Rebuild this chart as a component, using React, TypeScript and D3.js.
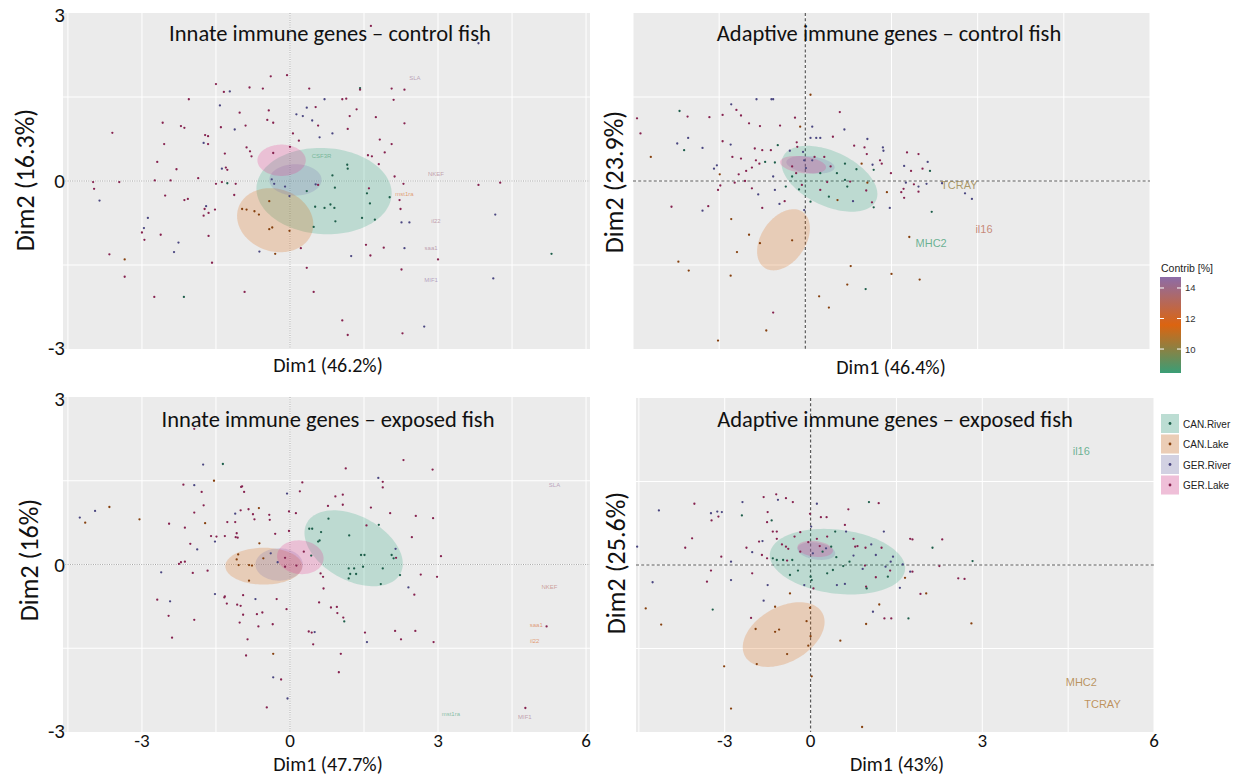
import React from 'react';
import * as d3 from 'd3';

type Pt = [number, number, number];
type Ell = { g: number; cx: number; cy: number; ux: number; uy: number; vx: number; vy: number };
type Gene = { name: string; x: number; y: number; contrib: number };

const groups = ['CAN.River', 'CAN.Lake', 'GER.River', 'GER.Lake'];
const groupColors = ['#1b9e77', '#d95f02', '#7570b3', '#e7298a'];
const pointColors = ['#1d5e4a', '#86400e', '#4a4680', '#86224f'];

const contribTicks = [10, 12, 14];
const contribDomain = [8.43, 11.58, 14.72];
const contribColors = ['#3a9e76', '#dc6410', '#8c6ca8'];

// ---------- Innate immune genes – control fish ----------
const innateControlPoints: Pt[] = [
  [1.64,2.77,3],[3.82,2.46,2],[-0.39,1.87,3],[-0.06,1.89,3],[-1.50,1.73,3],[2.32,1.63,3],[1.42,1.66,0],[2.06,1.65,3],[-1.34,1.59,3],[-1.22,1.60,2],
  [-0.82,1.67,3],[-0.55,1.65,3],[0.39,1.65,3],[-2.05,1.46,3],[0.70,1.46,2],[1.06,1.46,3],[1.14,1.47,3],[2.10,1.45,3],[1.42,1.63,3],[-1.42,1.35,2],
  [0.52,1.32,3],[-0.43,1.26,3],[0.34,1.31,2],[1.35,1.28,3],[-1.02,1.22,3],[0.13,1.19,2],[0.26,1.16,2],[1.21,1.16,3],[1.74,1.14,3],[-0.46,1.09,3],
  [-0.34,1.04,3],[0.45,1.08,2],[2.32,1.03,3],[-2.58,1.04,3],[-0.90,0.99,3],[-1.40,0.96,3],[-2.21,0.98,3],[-2.14,0.95,3],[-1.12,0.92,2],[0.06,0.85,3],
  [0.57,0.99,3],[1.17,0.93,3],[0.86,0.85,2],[-1.72,0.82,3],[-1.66,0.80,3],[-3.60,0.86,3],[-2.55,0.66,3],[0.60,0.78,2],[1.82,0.74,3],[-1.75,0.68,2],
  [-1.66,0.66,3],[0.18,0.72,3],[2.06,0.66,3],[-0.88,0.60,3],[-0.81,0.53,3],[-1.32,0.49,3],[-0.78,0.44,3],[-0.34,0.50,3],[0.00,0.61,3],[1.58,0.46,3],
  [1.66,0.44,3],[1.92,0.51,3],[-2.69,0.34,3],[-1.30,0.24,3],[-1.27,0.20,3],[-2.30,0.21,3],[-1.38,0.22,2],[1.80,0.30,3],[1.16,0.29,0],[1.17,0.22,0],
  [-1.38,-0.02,3],[-1.27,-0.04,0],[-1.50,-0.05,3],[-1.10,-0.05,3],[-1.86,0.05,3],[-0.37,0.03,2],[-0.32,-0.05,2],[0.86,0.10,0],[0.52,-0.06,2],[0.57,-0.07,3],
  [-0.10,-0.10,2],[2.12,0.08,3],[2.30,-0.05,3],[3.82,-0.07,3],[4.26,-0.03,3],[-3.99,-0.02,3],[-3.97,-0.14,3],[-3.86,-0.35,2],[-3.46,-0.02,3],[-2.74,0.01,3],
  [-2.42,0.01,3],[-2.53,-0.26,3],[-2.14,-0.34,3],[-2.07,-0.32,3],[-1.13,-0.25,3],[-1.70,-0.45,2],[-1.73,-0.50,3],[-1.52,-0.51,3],[-1.65,-0.57,3],[-1.75,-0.62,3],
  [-0.42,-0.36,1],[-0.97,-0.50,1],[-0.88,-0.51,1],[-0.72,-0.54,1],[-0.63,-0.60,1],[-0.01,-0.27,2],[0.34,-0.18,0],[0.91,-0.12,0],[1.56,-0.22,0],[1.60,-0.13,3],
  [1.62,-0.40,0],[2.02,-0.29,0],[2.22,-0.34,3],[2.24,-0.50,3],[0.51,-0.46,0],[0.70,-0.48,0],[0.82,-0.42,0],[0.90,-0.48,0],[0.92,-0.72,0],[1.46,-0.66,0],
  [1.72,-0.69,0],[2.26,-0.74,2],[2.42,-0.74,2],[4.16,-0.60,2],[-2.88,-0.66,2],[-3.00,-0.92,3],[-2.96,-0.84,2],[-2.95,-1.05,3],[-2.62,-0.96,3],[-2.26,-1.10,2],
  [-2.35,-1.27,2],[-1.65,-0.98,3],[-0.36,-0.83,1],[-0.42,-0.86,1],[-0.01,-0.89,1],[0.48,-0.82,0],[-0.62,-1.26,2],[-0.30,-1.30,1],[0.22,-1.20,3],[1.54,-1.14,3],
  [1.90,-1.19,3],[1.63,-1.33,3],[2.32,-1.20,2],[3.00,-1.40,3],[1.24,-1.34,2],[-3.66,-1.31,3],[-3.35,-1.40,1],[5.30,-1.30,0],[-1.58,-1.46,3],[-3.35,-1.71,3],
  [0.34,-1.55,3],[2.26,-1.58,3],[4.12,-1.74,2],[-2.75,-2.07,3],[-2.15,-2.07,0],[-0.92,-1.98,3],[0.48,-1.98,3],[1.06,-2.49,3],[1.17,-2.75,3],[2.28,-2.72,3],
  [2.72,-2.60,2],[-0.86,-3.04,3]
];
const innateControlEllipses: Ell[] = [
  { g: 0, cx: 0.69, cy: -0.18, ux: 1.37, uy: -0.04, vx: 0.0, vy: 0.77 },
  { g: 1, cx: -0.30, cy: -0.70, ux: 0.77, uy: -0.12, vx: 0.06, vy: 0.56 },
  { g: 2, cx: 0.11, cy: 0.02, ux: 0.53, uy: 0, vx: 0, vy: 0.28 },
  { g: 3, cx: -0.17, cy: 0.37, ux: 0.49, uy: 0, vx: 0, vy: 0.28 }
];
const innateControlGenes: Gene[] = [
  { name: 'SLA', x: 2.53, y: 1.84, contrib: 14.3 },
  { name: 'CSF3R', x: 0.64, y: 0.44, contrib: 8.6 },
  { name: 'NKEF', x: 2.96, y: 0.13, contrib: 13.8 },
  { name: 'mst1ra', x: 2.32, y: -0.24, contrib: 11.5 },
  { name: 'il22', x: 2.96, y: -0.71, contrib: 13.9 },
  { name: 'saa1', x: 2.86, y: -1.20, contrib: 14.0 },
  { name: 'MIF1', x: 2.86, y: -1.77, contrib: 14.6 }
];

// ---------- Adaptive immune genes – control fish ----------
const adaptiveControlPoints: Pt[] = [
  [0.09,1.54,1],[-0.85,1.46,2],[-0.59,1.46,2],[-0.56,1.46,2],[-1.29,1.37,2],[-2.19,1.25,0],[-1.20,1.27,3],[0.60,1.23,3],[-1.12,1.17,3],[-2.05,1.15,3],
  [-1.67,1.14,3],[-1.44,1.18,3],[-2.93,1.12,3],[-0.18,1.13,3],[-0.09,0.97,1],[0.12,0.97,2],[-0.98,1.03,3],[-0.79,0.98,3],[-0.44,0.99,3],[0.68,0.92,2],
  [-2.87,0.85,3],[-2.04,0.77,2],[0.09,0.77,2],[0.19,0.77,2],[0.26,0.77,2],[0.48,0.79,3],[1.08,0.75,2],[-2.23,0.67,2],[-1.44,0.71,3],[-1.30,0.65,2],
  [-1.79,0.59,2],[-2.11,0.55,0],[-0.88,0.58,3],[-0.48,0.64,0],[-0.75,0.55,3],[-0.60,0.55,3],[-0.14,0.61,3],[-0.15,0.69,3],[0.85,0.63,3],[1.03,0.60,3],
  [1.35,0.60,2],[1.36,0.54,2],[1.07,0.48,3],[1.77,0.51,3],[1.97,0.48,3],[-2.69,0.43,1],[-1.27,0.43,3],[-1.12,0.40,3],[-0.86,0.37,3],[-1.54,0.28,2],
  [-1.59,0.22,2],[-1.03,0.18,3],[-1.49,0.12,1],[-1.16,0.12,3],[-0.93,0.24,3],[-0.80,0.31,3],[-0.70,0.34,0],[-0.53,0.33,0],[-0.27,0.54,2],[-0.04,0.52,2],
  [0.12,0.37,2],[0.33,0.43,3],[0.69,0.31,0],[0.98,0.31,1],[1.17,0.29,2],[1.30,0.37,3],[1.33,0.31,3],[1.72,0.27,2],[1.84,0.18,3],[2.13,0.34,2],
  [2.04,0.22,3],[2.17,0.18,0],[1.49,0.14,3],[0.89,0.21,0],[1.19,0.20,0],[0.69,0.02,0],[0.78,-0.01,3],[0.38,-0.02,3],[-0.06,-0.07,3],[-0.23,0.08,0],
  [-0.56,0.08,2],[-0.34,-0.10,0],[-1.05,0.00,3],[-1.23,-0.03,3],[-1.48,-0.08,3],[-1.52,-0.16,3],[-0.93,-0.13,3],[-0.82,-0.24,2],[-0.53,-0.16,2],[-0.11,-0.15,0],
  [0.26,-0.16,3],[0.73,-0.10,0],[1.08,-0.03,1],[1.06,-0.17,3],[1.42,-0.20,1],[1.71,-0.14,3],[1.75,-0.03,2],[1.67,-0.20,3],[1.89,-0.06,3],[1.97,-0.10,2],
  [1.97,-0.19,3],[2.11,-0.05,2],[2.38,-0.04,2],[2.78,-0.22,2],[2.90,-0.32,2],[-0.45,-0.41,2],[-0.36,-0.36,3],[-0.75,-0.48,3],[0.56,-0.34,1],[0.83,-0.36,2],
  [1.16,-0.38,3],[1.19,-0.47,0],[1.47,-0.48,2],[1.72,-0.30,3],[2.20,-0.55,0],[-2.33,-0.46,3],[-1.69,-0.45,3],[-1.79,-0.53,2],[-0.02,-0.52,2],[-1.29,-0.68,1],
  [-0.98,-0.96,1],[-0.23,-1.06,1],[-0.79,-1.11,1],[-1.19,-1.27,1],[1.81,-1.00,1],[-2.21,-1.44,1],[-2.03,-1.60,1],[-1.30,-1.69,1],[0.79,-1.52,1],[1.50,-1.66,1],
  [1.99,-1.76,1],[0.73,-1.85,1],[1.05,-1.93,0],[0.24,-2.06,1],[0.41,-2.26,1],[-0.56,-2.35,3],[-0.68,-2.67,1],[-1.52,-2.85,1],[0.09,-0.37,0],[0.41,-0.28,0],
  [0.55,0.14,0],[-0.16,0.14,3],[0.26,0.14,0],[0.01,0.23,2],[0.44,0.26,3],[-0.23,0.26,3],[-0.02,0.37,2],[0.16,0.43,3]
];
const adaptiveControlEllipses: Ell[] = [
  { g: 0, cx: 0.42, cy: 0.04, ux: 0.81, uy: -0.39, vx: 0.20, vy: 0.44 },
  { g: 1, cx: -0.38, cy: -1.05, ux: 0.33, uy: 0.50, vx: 0.32, vy: -0.22 },
  { g: 2, cx: 0.09, cy: 0.29, ux: 0.42, uy: -0.05, vx: 0.01, vy: 0.15 },
  { g: 3, cx: -0.04, cy: 0.29, ux: 0.40, uy: -0.05, vx: 0.01, vy: 0.15 }
];
const adaptiveControlGenes: Gene[] = [
  { name: 'TCRAY', x: 2.68, y: -0.08, contrib: 10.2 },
  { name: 'il16', x: 3.11, y: -0.86, contrib: 12.9 },
  { name: 'MHC2', x: 2.19, y: -1.10, contrib: 8.5 }
];

// ---------- Innate immune genes – exposed fish ----------
const innateExposedPoints: Pt[] = [
  [-1.94,2.43,3],[2.30,1.87,3],[2.89,1.70,3],[-1.76,1.79,2],[-1.36,1.80,0],[1.13,1.72,3],[1.79,1.55,2],[1.88,1.48,3],[1.88,1.38,3],[-1.54,1.50,1],
  [0.25,1.47,3],[-2.16,1.43,3],[-1.94,1.42,2],[-0.99,1.39,3],[-0.97,1.40,3],[-0.93,1.30,3],[-1.79,1.30,3],[0.20,1.31,3],[-0.06,1.27,2],[0.92,1.22,3],
  [1.07,1.25,3],[-1.75,1.06,3],[-3.66,1.03,1],[-3.95,0.96,2],[-1.00,0.97,3],[-0.84,0.99,3],[-0.63,1.01,1],[0.77,1.05,3],[1.07,1.07,3],[1.64,1.02,3],
  [-1.94,0.93,3],[-1.11,0.91,2],[-0.75,0.90,3],[-0.42,0.89,3],[-0.02,0.95,3],[0.12,0.92,3],[-4.26,0.84,2],[-4.15,0.75,1],[-3.05,0.81,1],[-1.72,0.74,1],
  [-1.27,0.76,3],[-1.11,0.76,3],[-0.72,0.81,3],[-0.41,0.80,3],[2.03,0.92,3],[2.55,0.87,3],[2.90,0.83,3],[-2.45,0.73,3],[-2.13,0.66,3],[0.78,0.82,0],
  [1.80,0.71,0],[1.55,0.70,3],[0.39,0.64,0],[0.45,0.64,0],[0.63,0.58,0],[-1.08,0.56,3],[-1.10,0.49,3],[-1.06,0.48,3],[-1.60,0.51,3],[-1.49,0.50,3],
  [-1.32,0.51,3],[-0.30,0.55,3],[-0.02,0.60,3],[-2.02,0.37,3],[-1.52,0.41,2],[-1.88,0.27,2],[2.47,0.49,3],[0.57,0.41,0],[0.60,0.43,0],[1.20,0.52,0],
  [2.14,0.28,2],[2.06,0.17,0],[2.10,0.11,0],[2.15,0.12,3],[3.06,0.15,3],[1.44,0.17,0],[1.51,0.17,0],[0.28,0.23,3],[0.43,0.16,0],[-2.21,0.04,3],
  [-2.13,0.05,3],[-2.25,0.01,3],[-2.61,-0.14,2],[-1.97,-0.15,3],[-1.67,-0.11,3],[-1.05,0.18,1],[-1.08,0.09,1],[-1.04,-0.01,1],[-0.83,-0.01,1],[-0.77,-0.02,1],
  [-0.62,0.38,1],[-0.54,0.11,1],[-0.39,0.20,2],[-0.10,0.12,3],[-0.10,-0.04,3],[0.13,-0.02,3],[-0.25,0.04,2],[0.62,-0.16,3],[0.67,-0.22,3],[1.19,-0.07,0],
  [1.22,-0.17,0],[1.30,-0.07,0],[1.34,-0.17,0],[1.19,-0.25,0],[1.48,-0.04,0],[1.88,-0.07,0],[2.23,-0.19,0],[2.65,-0.18,3],[2.98,-0.22,3],[-0.83,-0.29,1],
  [0.68,-0.43,3],[1.84,-0.35,0],[2.40,-0.41,2],[2.52,-0.54,3],[-1.52,-0.53,2],[-1.32,-0.57,3],[-1.33,-0.59,3],[-1.28,-0.70,3],[-0.95,-0.55,3],[-0.70,-0.62,2],
  [-0.27,-0.62,3],[-2.69,-0.63,3],[-2.43,-0.66,2],[-1.07,-0.72,3],[-1.00,-0.74,3],[-0.95,-0.90,3],[-0.67,-0.89,3],[-0.56,-0.86,3],[-1.02,-1.04,3],[-0.64,-1.11,3],
  [-0.35,-1.07,3],[-0.07,-0.80,3],[-2.46,-0.92,3],[-1.94,-0.99,3],[-2.39,-1.31,3],[-0.86,-1.34,3],[0.59,-0.68,3],[0.83,-0.77,3],[0.95,-0.76,3],[0.96,-0.87,3],
  [1.08,-0.95,3],[1.10,-1.02,0],[0.38,-1.20,3],[0.44,-1.22,3],[0.50,-1.21,2],[0.47,-1.43,3],[1.52,-1.22,3],[1.56,-1.39,2],[2.13,-1.19,3],[2.25,-1.34,3],
  [2.54,-1.19,3],[2.91,-1.39,3],[5.20,-1.11,3],[-0.89,-1.63,3],[-0.34,-1.60,1],[1.03,-1.60,3],[-0.34,-2.02,2],[-0.18,-2.06,3],[0.99,-1.93,3],[-0.05,-2.40,2],
  [-0.47,-2.56,3],[4.77,-2.57,3]
];
const innateExposedEllipses: Ell[] = [
  { g: 0, cx: 1.29, cy: 0.29, ux: 0.95, uy: -0.45, vx: 0.30, vy: 0.51 },
  { g: 1, cx: -0.53, cy: -0.03, ux: 0.78, uy: 0, vx: 0, vy: 0.33 },
  { g: 2, cx: -0.22, cy: 0.0, ux: 0.48, uy: 0, vx: 0, vy: 0.29 },
  { g: 3, cx: 0.21, cy: 0.13, ux: 0.47, uy: -0.04, vx: 0.03, vy: 0.30 }
];
const innateExposedGenes: Gene[] = [
  { name: 'SLA', x: 5.36, y: 1.43, contrib: 14.4 },
  { name: 'NKEF', x: 5.26, y: -0.40, contrib: 13.2 },
  { name: 'saa1', x: 4.99, y: -1.08, contrib: 11.8 },
  { name: 'il22', x: 4.96, y: -1.37, contrib: 11.5 },
  { name: 'mst1ra', x: 3.26, y: -2.68, contrib: 8.5 },
  { name: 'MIF1', x: 4.76, y: -2.74, contrib: 13.9 }
];

// ---------- Adaptive immune genes – exposed fish ----------
const adaptiveExposedPoints: Pt[] = [
  [-0.60,1.27,3],[-0.82,1.22,3],[-0.57,1.17,2],[-0.43,1.20,3],[-0.31,1.13,3],[-1.19,1.13,2],[0.11,1.10,2],[1.02,1.13,0],[1.19,1.11,3],[-2.03,1.10,3],
  [-2.65,0.98,2],[-1.74,0.93,2],[-1.63,0.96,2],[-1.55,0.95,2],[-1.61,0.87,3],[-1.20,0.89,0],[-0.75,0.95,3],[-0.01,0.92,3],[0.18,0.86,3],[0.66,1.00,3],
  [-1.73,0.80,3],[-0.76,0.77,3],[-0.68,0.80,0],[-0.66,0.60,3],[-0.59,0.60,3],[0.28,0.86,3],[0.60,0.72,3],[0.01,0.69,2],[1.28,0.60,2],[-2.07,0.48,3],
  [-2.19,0.31,3],[-1.12,0.31,3],[-1.02,0.23,2],[-0.90,0.42,3],[-0.84,0.43,2],[-0.59,0.47,3],[-0.50,0.37,3],[-0.43,0.33,3],[-0.76,0.12,3],[-0.85,0.18,3],
  [-0.66,0.12,0],[-0.48,0.09,0],[-0.32,0.09,0],[-1.56,0.15,3],[-1.39,0.06,2],[-1.74,-0.10,3],[-1.02,-0.15,3],[-1.39,-0.27,2],[-1.81,-0.30,3],[-2.76,-0.31,2],
  [-3.03,0.33,2],[-0.75,-0.36,2],[-1.71,-0.80,0],[-2.88,-0.78,1],[-2.61,-1.07,1],[-0.36,-0.51,1],[-0.82,-0.64,2],[-0.62,-0.75,1],[-0.01,-0.77,1],[-1.04,-0.95,3],
  [-0.96,-1.15,1],[-0.62,-1.20,1],[-0.55,-1.16,1],[-0.07,-1.01,1],[0.00,-1.28,1],[-0.04,-1.45,1],[0.52,-1.36,1],[-0.41,-1.60,1],[-0.94,-1.78,1],[-1.51,-1.82,1],
  [0.02,-2.00,1],[-1.39,-2.58,1],[0.90,-2.91,1],[0.97,-1.06,1],[1.20,-0.71,1],[1.09,-0.84,2],[1.29,-0.96,3],[1.41,-0.96,3],[1.71,-0.96,0],[2.81,-1.05,1],
  [1.92,-0.52,3],[2.02,-0.51,1],[1.56,-0.41,2],[1.74,-0.12,2],[1.78,-0.12,3],[1.65,-0.23,1],[2.58,-0.24,3],[2.69,-0.25,3],[2.25,-0.02,3],[2.83,0.07,0],
  [2.13,0.31,0],[1.78,0.46,3],[2.30,0.46,3],[1.44,0.15,2],[1.40,0.06,2],[1.61,0.01,2],[1.31,-0.03,2],[1.39,-0.10,3],[1.35,-0.21,0],[1.14,-0.22,3],
  [0.91,-0.07,2],[0.68,0.06,0],[0.45,0.14,0],[0.57,-0.02,0],[0.39,-0.09,0],[0.46,-0.36,2],[0.60,-0.34,2],[0.97,-0.39,3],[0.98,-0.42,0],[0.29,-0.15,0],
  [0.00,-0.21,0],[0.02,-0.27,0],[-0.36,-0.18,0],[-0.11,-0.36,2],[0.05,-0.42,3],[-0.22,-0.10,0],[-0.59,0.09,0],[0.75,0.47,3],[0.78,0.33,3],[0.96,0.31,3],
  [1.06,0.37,2],[1.24,0.31,3],[1.14,0.18,2],[0.75,0.17,2],[0.21,0.24,0],[0.04,0.21,2],[-0.18,0.24,3],[0.11,0.47,3],[0.29,0.51,3],[0.43,0.60,0],
  [0.62,0.60,2],[-0.04,0.41,3],[0.16,0.34,3],[0.27,0.30,2],[-0.18,0.59,3],[-0.28,0.51,3],[-0.39,0.29,3],[0.95,-0.01,3],[1.74,0.47,3],[-0.41,0.08,3],
  [0.36,0.33,0],[0.82,0.34,3]
];
const adaptiveExposedEllipses: Ell[] = [
  { g: 0, cx: 0.47, cy: 0.06, ux: 1.18, uy: -0.15, vx: 0.07, vy: 0.57 },
  { g: 1, cx: -0.47, cy: -1.25, ux: 0.68, uy: 0.38, vx: 0.22, vy: -0.44 },
  { g: 2, cx: 0.10, cy: 0.25, ux: 0.33, uy: -0.05, vx: 0.02, vy: 0.15 },
  { g: 3, cx: 0.08, cy: 0.29, ux: 0.31, uy: -0.04, vx: 0.02, vy: 0.14 }
];
const adaptiveExposedGenes: Gene[] = [
  { name: 'il16', x: 4.73, y: 2.05, contrib: 8.5 },
  { name: 'MHC2', x: 4.73, y: -2.11, contrib: 10.6 },
  { name: 'TCRAY', x: 5.10, y: -2.50, contrib: 10.7 }
];

const leftYTickValues = [3, 0, -3];
const leftYTickLabels = ['3', '0', '-3'];
const innateXTickValues = [-3, 0, 3, 6];
const innateXTickLabels = ['-3', '0', '3', '6'];
const adaptiveXTickValues = [-1.5, 0, 3, 6];
const adaptiveXTickLabels = ['-3', '0', '3', '6'];

const TITLE_FONT = 'Carlito, Calibri, Lato, "Open Sans", sans-serif';
const SANS = '"Liberation Sans", Arial, sans-serif';

const contribColor = d3.scaleLinear<string>().domain(contribDomain).range(contribColors).clamp(true);

type PanelProps = {
  id: string;
  left: number; right: number; top: number; bottom: number;
  xDomain: [number, number];
  points: Pt[]; ellipses: Ell[]; genes: Gene[];
  title: string; titleX: number; titleY: number;
  xLabel: string; xLabelX: number; xLabelY: number;
  yLabel: string; yLabelX: number; yLabelY: number;
  dashed: boolean;
  geneFont: number; geneOpacity: number;
  yTicks?: boolean; xTickValues?: number[]; xTickLabels?: string[];
};

function Panel(p: PanelProps) {
  const xs = d3.scaleLinear().domain(p.xDomain).range([p.left, p.right]);
  const ys = d3.scaleLinear().domain([-3, 3]).range([p.bottom, p.top]);
  const gridX: number[] = [];
  for (let v = Math.ceil(p.xDomain[0] / 1.5) * 1.5; v <= p.xDomain[1]; v += 1.5) gridX.push(v);
  const gridY = [-1.5, 0, 1.5];
  const line = d3.line<[number, number]>().curve(d3.curveLinearClosed);
  const ellPath = (e: Ell) => {
    const pts: [number, number][] = d3.range(0, 120).map((i) => {
      const t = (i / 120) * Math.PI * 2;
      return [
        xs(e.cx + e.ux * Math.cos(t) + e.vx * Math.sin(t)),
        ys(e.cy + e.uy * Math.cos(t) + e.vy * Math.sin(t))
      ];
    });
    return line(pts) || '';
  };
  const zeroStroke = p.dashed ? '#5a5a5a' : '#9a9a9a';
  const zeroDash = p.dashed ? '3,2.2' : '1,1.3';
  const zeroW = p.dashed ? 1.2 : 0.9;
  return (
    <g>
      <defs>
        <clipPath id={`clip-${p.id}`}>
          <rect x={p.left} y={p.top} width={p.right - p.left} height={p.bottom - p.top} />
        </clipPath>
      </defs>
      <rect x={p.left} y={p.top} width={p.right - p.left} height={p.bottom - p.top} fill="#ebebeb" />
      <g clipPath={`url(#clip-${p.id})`}>
        {gridX.map((v) => (
          <line key={'gx' + v} x1={xs(v)} x2={xs(v)} y1={p.top} y2={p.bottom} stroke="#ffffff" strokeWidth={1} />
        ))}
        {gridY.map((v) => (
          <line key={'gy' + v} x1={p.left} x2={p.right} y1={ys(v)} y2={ys(v)} stroke="#ffffff" strokeWidth={1} />
        ))}
        <line x1={p.left} x2={p.right} y1={ys(0)} y2={ys(0)} stroke={zeroStroke} strokeWidth={zeroW} strokeDasharray={zeroDash} />
        <line x1={xs(0)} x2={xs(0)} y1={p.top} y2={p.bottom} stroke={zeroStroke} strokeWidth={zeroW} strokeDasharray={zeroDash} />
        {p.ellipses.map((e, i) => (
          <path key={'e' + i} d={ellPath(e)} fill={groupColors[e.g]} fillOpacity={0.22} stroke="none" />
        ))}
        {p.points.map((d, i) => (
          <circle key={'p' + i} cx={xs(d[0])} cy={ys(d[1])} r={1.15} fill={pointColors[d[2]]} />
        ))}
        {p.genes.map((g) => (
          <text key={g.name} x={xs(g.x)} y={ys(g.y)} fill={contribColor(g.contrib)} fillOpacity={p.geneOpacity}
            fontSize={p.geneFont} fontFamily={SANS} textAnchor="middle" dominantBaseline="central">{g.name}</text>
        ))}
      </g>
      <text x={p.titleX} y={p.titleY} fontFamily={TITLE_FONT} fontSize={22.5} textAnchor="middle" dominantBaseline="central" fill="#111">{p.title}</text>
      <text x={p.xLabelX} y={p.xLabelY} fontFamily={TITLE_FONT} fontSize={20} textAnchor="middle" dominantBaseline="central" fill="#111">{p.xLabel}</text>
      <text transform={`translate(${p.yLabelX},${p.yLabelY}) rotate(-90)`} fontFamily={TITLE_FONT} fontSize={26} textAnchor="middle" dominantBaseline="central" fill="#111">{p.yLabel}</text>
      {p.yTicks && leftYTickValues.map((v, i) => (
        <text key={'yt' + v} x={p.left + 2} y={Math.min(Math.max(ys(v), p.top + 2), p.bottom - 1)} fontFamily={TITLE_FONT} fontSize={21} textAnchor="end" dominantBaseline="central" fill="#111">{leftYTickLabels[i]}</text>
      ))}
      {p.xTickValues && p.xTickValues.map((v, i) => (
        <text key={'xt' + v} x={xs(v)} y={p.bottom + 8} fontFamily={TITLE_FONT} fontSize={19} textAnchor="middle" dominantBaseline="central" fill="#111">{p.xTickLabels ? p.xTickLabels[i] : String(v)}</text>
      ))}
    </g>
  );
}

function ContribLegend() {
  const top = 277, bottom = 373, x = 1160, w = 21;
  const ys = d3.scaleLinear().domain([contribDomain[0], contribDomain[2]]).range([bottom, top]);
  const stops = d3.range(0, 11).map((i) => {
    const v = contribDomain[0] + (i / 10) * (contribDomain[2] - contribDomain[0]);
    return { off: 1 - i / 10, c: contribColor(v) };
  });
  return (
    <g>
      <defs>
        <linearGradient id="contribGrad" x1="0" y1="0" x2="0" y2="1">
          {stops.slice().reverse().map((s, i) => (
            <stop key={i} offset={`${s.off * 100}%`} stopColor={s.c} />
          ))}
        </linearGradient>
      </defs>
      <text x={x + 1} y={268} fontFamily={SANS} fontSize={10.5} fill="#222" dominantBaseline="central">Contrib [%]</text>
      <rect x={x} y={top} width={w} height={bottom - top} fill="url(#contribGrad)" />
      {contribTicks.map((t) => (
        <g key={t}>
          <line x1={x} x2={x + 4} y1={ys(t)} y2={ys(t)} stroke="#fff" strokeWidth={1} />
          <line x1={x + w - 4} x2={x + w} y1={ys(t)} y2={ys(t)} stroke="#fff" strokeWidth={1} />
          <text x={x + w + 4} y={ys(t)} fontFamily={SANS} fontSize={9.5} fill="#333" dominantBaseline="central">{t}</text>
        </g>
      ))}
    </g>
  );
}

function GroupLegend() {
  const x = 1161, y0 = 414, h = 20.5;
  return (
    <g>
      {groups.map((g, i) => (
        <g key={g}>
          <rect x={x} y={y0 + i * h} width={18} height={19} fill="#f2f2f2" />
          <rect x={x} y={y0 + i * h} width={18} height={19} fill={groupColors[i]} fillOpacity={0.25} />
          <circle cx={x + 9} cy={y0 + i * h + 9.5} r={1.4} fill={pointColors[i]} />
          <text x={x + 22} y={y0 + i * h + 10} fontFamily={SANS} fontSize={10} fill="#222" dominantBaseline="central">{g}</text>
        </g>
      ))}
    </g>
  );
}

export default function App() {
  return (
    <div style={{ position: 'absolute', left: 0, top: 0 }}>
      <svg width={1239} height={776} style={{ display: 'block', background: '#fff' }}>
        <Panel id="p1" left={63} right={590} top={13} bottom={349} xDomain={[-4.6, 6.08]}
          points={innateControlPoints} ellipses={innateControlEllipses} genes={innateControlGenes}
          title="Innate immune genes – control fish" titleX={330} titleY={33}
          xLabel="Dim1 (46.2%)" xLabelX={328} xLabelY={365}
          yLabel="Dim2 (16.3%)" yLabelX={25} yLabelY={180}
          dashed={false} geneFont={6} geneOpacity={0.6} yTicks />
        <Panel id="p2" left={633} right={1150} top={13} bottom={349} xDomain={[-3, 6]}
          points={adaptiveControlPoints} ellipses={adaptiveControlEllipses} genes={adaptiveControlGenes}
          title="Adaptive immune genes – control fish" titleX={889} titleY={33}
          xLabel="Dim1 (46.4%)" xLabelX={891} xLabelY={367}
          yLabel="Dim2 (23.9%)" yLabelX={614} yLabelY={182}
          dashed={true} geneFont={11} geneOpacity={0.75} />
        <Panel id="p3" left={63} right={590} top={397} bottom={732} xDomain={[-4.6, 6.08]}
          points={innateExposedPoints} ellipses={innateExposedEllipses} genes={innateExposedGenes}
          title="Innate immune genes – exposed fish" titleX={328} titleY={419}
          xLabel="Dim1 (47.7%)" xLabelX={328} xLabelY={764}
          yLabel="Dim2 (16%)" yLabelX={29} yLabelY={560}
          dashed={false} geneFont={6} geneOpacity={0.6} yTicks
          xTickValues={innateXTickValues} xTickLabels={innateXTickLabels} />
        <Panel id="p4" left={636} right={1154} top={398} bottom={732} xDomain={[-3.05, 6]}
          points={adaptiveExposedPoints} ellipses={adaptiveExposedEllipses} genes={adaptiveExposedGenes}
          title="Adaptive immune genes – exposed fish" titleX={895} titleY={419}
          xLabel="Dim1 (43%)" xLabelX={897} xLabelY={764}
          yLabel="Dim2 (25.6%)" yLabelX={616} yLabelY={563}
          dashed={true} geneFont={11} geneOpacity={0.75}
          xTickValues={adaptiveXTickValues} xTickLabels={adaptiveXTickLabels} />
        <ContribLegend />
        <GroupLegend />
      </svg>
    </div>
  );
}
